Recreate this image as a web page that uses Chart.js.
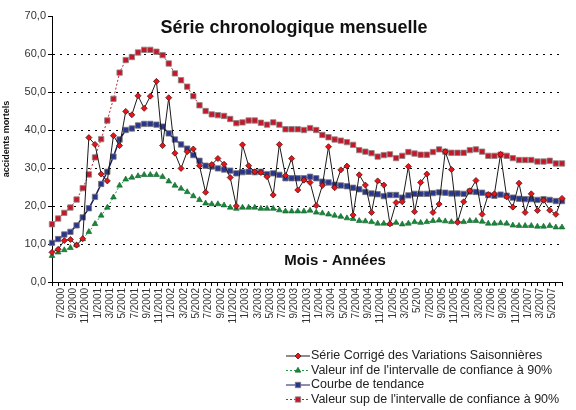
<!DOCTYPE html>
<html>
<head>
<meta charset="utf-8">
<script src="https://cdn.jsdelivr.net/npm/chart.js@4/dist/chart.umd.min.js"></script>
<style>
  html, body { margin: 0; padding: 0; background: #fff; }
  #serieChart { display: block; }
</style>
</head>
<body>
<canvas id="serieChart" width="576" height="410"></canvas>
<script>
const months = [
  '6/2000', '7/2000', '8/2000', '9/2000', '10/2000', '11/2000', '12/2000',
  '1/2001', '2/2001', '3/2001', '4/2001', '5/2001', '6/2001', '7/2001', '8/2001', '9/2001', '10/2001', '11/2001', '12/2001',
  '1/2002', '2/2002', '3/2002', '4/2002', '5/2002', '6/2002', '7/2002', '8/2002', '9/2002', '10/2002', '11/2002', '12/2002',
  '1/2003', '2/2003', '3/2003', '4/2003', '5/2003', '6/2003', '7/2003', '8/2003', '9/2003', '10/2003', '11/2003', '12/2003',
  '1/2004', '2/2004', '3/2004', '4/2004', '5/2004', '6/2004', '7/2004', '8/2004', '9/2004', '10/2004', '11/2004', '12/2004',
  '1/2005', '2/2005', '3/2005', '4/2005', '5/200', '6/2005', '7/2005', '8/2005', '9/2005', '10/2005', '11/2005', '12/2005',
  '1/2006', '2/2006', '3/2006', '6/2006', '7/2006', '8/2006', '9/2006', '10/2006', '11/2006', '12/2006',
  '1/2007', '2/2007', '3/2007', '4/2007', '5/2007', '6/2007', '7/2007'
];

const serieCVS = [
  7.8, 8.6, 10.9, 11.2, 9.7, 11.4, 38.0, 36.2, 28.4, 26.6, 38.5, 35.9, 44.9, 44.0, 49.0, 45.7, 48.9, 52.8, 35.9, 48.5, 33.9, 29.9, 34.3,
  35.0, 30.6, 23.6, 30.9, 32.5, 31.0, 27.5, 20.0, 36.1, 30.6, 29.0, 28.8, 27.7, 22.9, 36.2, 28.0, 32.5, 24.2, 26.8, 26.2, 20.1, 25.4,
  35.6, 24.8, 29.5, 30.5, 17.6, 28.2, 25.5, 18.3, 26.6, 25.5, 15.3, 20.9, 21.1, 30.4, 18.5, 26.2, 28.4, 18.3, 20.5, 34.3, 29.6, 15.7,
  21.1, 24.0, 26.7, 17.8, 23.0, 23.2, 33.6, 22.4, 19.7, 26.0, 18.3, 23.2, 18.8, 21.5, 18.9, 17.8, 22.0
];

const valeurInf = [
  6.9, 7.8, 8.4, 9.0, 9.7, 11.3, 13.2, 15.3, 17.5, 19.6, 22.3, 25.4, 27.0, 27.5, 27.9, 28.2, 28.2, 28.2, 27.7, 26.5, 25.4, 24.6, 23.7,
  22.6, 21.6, 20.7, 20.5, 20.5, 20.2, 19.6, 19.3, 19.6, 19.6, 19.6, 19.3, 19.3, 19.3, 18.9, 18.6, 18.6, 18.6, 18.6, 18.8, 18.3, 18.1,
  17.8, 17.5, 17.2, 16.8, 16.6, 16.1, 16.0, 15.8, 15.4, 15.4, 15.3, 15.6, 15.2, 15.4, 15.8, 15.6, 15.8, 16.1, 16.2, 16.0, 15.8, 16.0,
  15.8, 16.1, 16.1, 15.9, 15.4, 15.4, 15.5, 15.4, 14.9, 14.8, 14.8, 14.8, 14.6, 14.6, 14.8, 14.4, 14.4
];

const tendance = [
  10.3, 11.3, 12.5, 13.2, 14.9, 17.0, 19.4, 22.4, 25.8, 29.0, 33.0, 37.5, 40.0, 40.4, 41.2, 41.6, 41.6, 41.4, 40.9, 39.1, 37.5, 36.2, 35.1,
  33.4, 31.9, 30.6, 30.4, 29.9, 29.6, 29.3, 28.6, 28.9, 29.0, 28.9, 29.0, 28.4, 28.6, 28.2, 27.3, 27.3, 27.3, 27.3, 27.7, 27.3, 26.4,
  26.2, 25.6, 25.4, 25.2, 24.8, 24.4, 23.7, 23.3, 23.1, 22.6, 22.9, 22.9, 22.2, 22.8, 23.2, 23.2, 23.2, 23.4, 23.6, 23.5, 23.3, 23.3,
  23.2, 23.8, 23.7, 23.5, 22.9, 22.7, 23.0, 22.7, 22.2, 21.9, 21.8, 21.8, 21.6, 21.8, 21.6, 21.3, 21.3
];

const valeurSup = [
  15.2, 16.7, 18.2, 19.6, 21.7, 24.7, 28.3, 32.8, 37.6, 42.5, 48.2, 55.1, 58.4, 59.2, 60.4, 61.1, 61.1, 60.6, 59.7, 57.5, 54.9, 53.1, 51.4,
  48.9, 46.5, 45.0, 44.1, 43.9, 43.7, 42.9, 41.8, 42.0, 42.5, 42.5, 41.9, 41.4, 42.0, 41.4, 40.2, 40.2, 40.2, 40.0, 40.5, 40.0, 38.7,
  38.1, 37.5, 37.2, 36.8, 36.1, 34.7, 34.3, 33.9, 33.0, 33.4, 33.6, 32.6, 33.2, 34.2, 33.8, 33.5, 33.5, 34.2, 34.9, 34.3, 34.0, 34.0,
  34.0, 34.7, 34.9, 34.3, 33.2, 33.2, 33.5, 33.2, 32.6, 32.1, 32.1, 32.1, 31.7, 31.7, 31.9, 31.2, 31.2
];

const FONT = "'Liberation Sans', Arial, sans-serif";
const LAST_LABEL = 81;

const datasets = [
  {
    label: 'Série Corrigé des Variations Saisonnières',
    data: serieCVS,
    borderColor: '#1a1a1a',
    borderWidth: 1,
    pointStyle: 'rectRot',
    pointRadius: 3,
    pointBackgroundColor: '#e8141c',
    pointBorderColor: '#5a1010',
    pointBorderWidth: 0.8
  },
  {
    label: "Valeur inf de l'intervalle de confiance à 90%",
    data: valeurInf,
    borderColor: '#1f9a48',
    borderWidth: 1,
    borderDash: [2, 2],
    pointStyle: 'triangle',
    pointRadius: 3.3,
    pointBackgroundColor: '#168a3a',
    pointBorderColor: '#0d5a25',
    pointBorderWidth: 0.6
  },
  {
    label: 'Courbe de tendance',
    data: tendance,
    borderColor: '#1c1c5c',
    borderWidth: 1.5,
    pointStyle: 'rect',
    pointRadius: 3.8,
    pointBackgroundColor: '#2a3590',
    pointBorderColor: '#777',
    pointBorderWidth: 0.8
  },
  {
    label: "Valeur sup de l'intervalle de confiance à 90%",
    data: valeurSup,
    borderColor: '#c0202a',
    borderWidth: 1,
    borderDash: [2, 2],
    pointStyle: 'rect',
    pointRadius: 3.8,
    pointBackgroundColor: '#c4182a',
    pointBorderColor: '#888',
    pointBorderWidth: 0.8
  }
];

// titles, axis caption and the legend are drawn by hand, like Excel text boxes
const overlayText = {
  id: 'overlayText',
  afterDraw(chart) {
    const ctx = chart.ctx;
    ctx.save();
    ctx.fillStyle = '#111';
    ctx.textAlign = 'center';
    ctx.textBaseline = 'middle';
    ctx.font = 'bold 18px ' + FONT;
    ctx.fillText('Série chronologique mensuelle', 294, 28);
    ctx.font = 'bold 15px ' + FONT;
    ctx.fillText('Mois - Années', 335, 261);

    ctx.save();
    ctx.translate(7, 139);
    ctx.rotate(-Math.PI / 2);
    ctx.font = 'bold 9px ' + FONT;
    ctx.fillText('accidents mortels', 0, 0);
    ctx.restore();

    const rowY = [356, 370.5, 385, 399.5];
    chart.data.datasets.forEach((ds, i) => {
      const y = rowY[i];
      ctx.save();
      ctx.strokeStyle = ds.borderColor;
      ctx.lineWidth = 1;
      ctx.setLineDash(ds.borderDash || []);
      ctx.beginPath();
      ctx.moveTo(286, y);
      ctx.lineTo(310, y);
      ctx.stroke();
      ctx.setLineDash([]);
      ctx.fillStyle = ds.pointBackgroundColor;
      ctx.strokeStyle = ds.pointBorderColor;
      ctx.lineWidth = ds.pointBorderWidth;
      Chart.helpers.drawPoint(ctx, {
        pointStyle: ds.pointStyle,
        radius: ds.pointRadius,
        rotation: 0,
        borderWidth: ds.pointBorderWidth
      }, 298, y);
      ctx.restore();

      ctx.fillStyle = '#222';
      ctx.textAlign = 'left';
      ctx.font = '12.5px ' + FONT;
      ctx.fillText(ds.label, 311, y);
    });
    ctx.restore();
  }
};

const ctx = document.getElementById('serieChart');
const serieChart = new Chart(ctx, {
  type: 'line',
  data: { labels: months, datasets },
  plugins: [overlayText],
  options: {
    responsive: false,
    animation: false,
    layout: { autoPadding: false, padding: { top: 16, right: 4, left: 0, bottom: 0 } },
    elements: { line: { tension: 0 } },
    plugins: {
      legend: { display: false },
      tooltip: { enabled: false }
    },
    scales: {
      x: {
        type: 'category',
        offset: false,
        afterFit: scale => { scale.height = 128; },
        grid: {
          drawOnChartArea: false,
          drawTicks: true,
          tickLength: 4,
          tickColor: '#000'
        },
        border: { display: true, color: '#000', width: 1 },
        ticks: {
          autoSkip: false,
          maxRotation: 90,
          minRotation: 90,
          padding: 2,
          labelOffset: 3,
          color: '#333',
          font: { size: 10, family: FONT },
          callback: (value, index) => (index % 2 === 1 && index <= LAST_LABEL) ? months[index] : ''
        }
      },
      y: {
        min: 0,
        max: 70,
        afterFit: scale => { scale.width = 52; },
        grid: {
          color: c => (c.tick && (c.tick.value === 70 || c.tick.value === 0)) ? 'rgba(0,0,0,0)' : '#000',
          lineWidth: 1,
          tickLength: 4,
          tickColor: '#000',
          tickBorderDash: [],
          borderDash: [2, 5],
          dash: [2, 5]
        },
        border: { display: true, color: '#000', width: 1, dash: [2, 5] },
        ticks: {
          stepSize: 10,
          padding: 2,
          color: '#333',
          font: { size: 11, family: FONT },
          callback: v => v.toFixed(1).replace('.', ',')
        }
      }
    }
  }
});
</script>
</body>
</html>
